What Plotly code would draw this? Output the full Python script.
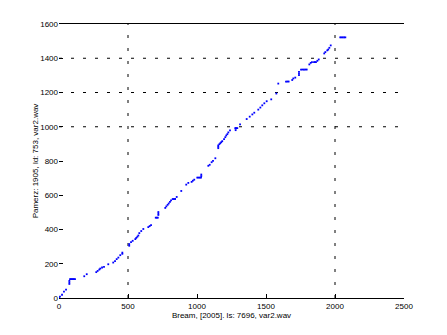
import plotly.graph_objects as go

# Alignment path points
x_vals = [0, 7, 22, 36, 51, 75, 75, 75, 80, 87, 94, 101, 108, 116,
          183, 201, 270, 280, 292, 299, 312, 326, 357, 393, 406, 418, 430, 444,
          459, 459, 509, 509, 522, 534, 553, 560, 568, 575, 582, 596, 611,
          647, 657, 667, 701, 708, 716, 720, 720, 720,
          770, 778, 787, 795, 804, 812, 824, 832, 841, 853, 886, 922, 937,
          961, 970, 980, 1002, 1011, 1020, 1029, 1031, 1031,
          1082, 1092, 1106, 1116, 1133, 1154, 1154, 1154,
          1162, 1169, 1176, 1183, 1196, 1205, 1212, 1220, 1227, 1239,
          1280, 1280, 1278, 1285, 1292, 1312,
          1360, 1382, 1401, 1415, 1444, 1459, 1473, 1488, 1505, 1538, 1575, 1589,
          1645, 1655, 1664, 1690, 1698, 1712, 1739, 1739, 1739,
          1754, 1765, 1775, 1785, 1795, 1814, 1824, 1833, 1848, 1855, 1862, 1872, 1882,
          1922, 1930, 1944, 1951, 1959, 1969, 2038, 2047, 2056, 2066, 2075]
y_vals = [0, 8, 19, 37, 49, 82, 91, 100, 110, 110, 110, 110, 110, 110,
          127, 139, 151, 158, 166, 172, 178, 182, 197, 207, 215, 227, 236, 250,
          258, 265, 305, 315, 326, 334, 344, 351, 358, 365, 379, 391, 403,
          414, 420, 426, 469, 469, 469, 485, 493, 502,
          526, 535, 544, 552, 561, 570, 578, 578, 578, 590, 625, 662, 672,
          678, 685, 691, 703, 703, 703, 703, 712, 721,
          772, 778, 793, 801, 816, 875, 883, 891,
          898, 904, 910, 916, 928, 939, 949, 957, 967, 979,
          980, 990, 992, 992, 992, 1014,
          1045, 1059, 1072, 1082, 1100, 1112, 1125, 1137, 1149, 1160, 1194, 1252,
          1264, 1264, 1264, 1273, 1282, 1287, 1301, 1310, 1320,
          1334, 1334, 1334, 1334, 1334, 1364, 1373, 1377, 1377, 1377, 1377, 1385, 1393,
          1428, 1436, 1446, 1451, 1461, 1475, 1522, 1522, 1522, 1522, 1522]

x_ticks = [0, 500, 1000, 1500, 2000, 2500]
y_ticks = [0, 200, 400, 600, 800, 1000, 1200, 1400, 1600]
x_grid = [500, 2000]
y_grid = [1000, 1200, 1400]

x_title = "Bream, [2005]. ls: 7696, var2.wav"
y_title = "Pamerz: 1905, ld: 753, var2.wav"

fig = go.Figure()
fig.add_trace(go.Scatter(x=x_vals, y=y_vals, mode="markers",
                         marker=dict(color="#0000ff", size=1.8, symbol="square",
                                     line=dict(width=0)),
                         showlegend=False, hoverinfo="skip"))

for gx in x_grid:
    fig.add_shape(type="line", xref="x", yref="paper", x0=gx, x1=gx, y0=0, y1=1,
                  line=dict(color="black", width=1, dash="3px,10px"), layer="below")
for gy in y_grid:
    fig.add_shape(type="line", xref="paper", yref="y", x0=0, x1=1, y0=gy, y1=gy,
                  line=dict(color="black", width=1, dash="3px,9px"), layer="below")

font = dict(family="Liberation Sans, Arial, sans-serif", size=8, color="black")
fig.update_layout(
    width=447, height=335,
    margin=dict(l=59, r=43, t=24, b=37),
    paper_bgcolor="white", plot_bgcolor="white",
    font=font,
    xaxis=dict(range=[0, 2500], tickvals=x_ticks, ticktext=[str(v) for v in x_ticks],
               showgrid=False, zeroline=False, showline=True, linecolor="black",
               linewidth=1, mirror=True, ticks="inside", ticklen=4, tickcolor="black",
               title=dict(text=x_title, font=font, standoff=2)),
    yaxis=dict(range=[0, 1600], tickvals=y_ticks, ticktext=[str(v) for v in y_ticks],
               showgrid=False, zeroline=False, showline=False,
               ticks="inside", ticklen=4, tickcolor="black",
               title=dict(text=y_title, font=font, standoff=0)),
)

fig.write_html("out.html")
